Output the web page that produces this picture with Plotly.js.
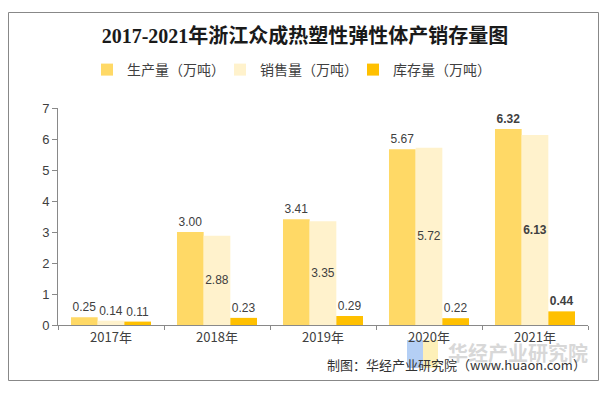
<!DOCTYPE html>
<html>
<head>
<meta charset="utf-8">
<script src="https://cdn.plot.ly/plotly-3.0.1.min.js"></script>
<style>html,body{margin:0;padding:0;background:#fff;}#chart{width:610px;height:396px;}</style>
</head>
<body>
<div id="chart"></div>
<script>
const categories = ['2017年', '2018年', '2019年', '2020年', '2021年'];
const production = [0.25, 3.00, 3.41, 5.67, 6.32];
const sales = [0.14, 2.88, 3.35, 5.72, 6.13];
const stock = [0.11, 0.23, 0.29, 0.22, 0.44];
const seriesNames = ['生产量（万吨）', '销售量（万吨）', '库存量（万吨）'];
const yTicks = [0, 1, 2, 3, 4, 5, 6, 7];

const colors = ['#FFD966', '#FFF2CC', '#FFC000'];
const labelFont = {family: 'Liberation Sans, Arial, sans-serif', size: 12, color: '#404040'};
const cjk = '"Noto Sans CJK SC", "Liberation Sans", sans-serif';

function labels(vals) {
  return vals.map((v, i) => i === vals.length - 1 ? '<b>' + v.toFixed(2) + '</b>' : v.toFixed(2));
}

const common = {type: 'bar', cliponaxis: false, constraintext: 'none', textangle: 0, hoverinfo: 'none',
                textfont: labelFont, insidetextfont: labelFont, outsidetextfont: labelFont};

const traces = [
  Object.assign({}, common, {name: seriesNames[0], x: categories, y: production, marker: {color: colors[0]},
   text: labels(production), textposition: 'outside'}),
  Object.assign({}, common, {name: seriesNames[1], x: categories, y: sales, marker: {color: colors[1]},
   text: labels(sales), textposition: sales.map(v => v < 1 ? 'outside' : 'inside'), insidetextanchor: 'middle'}),
  Object.assign({}, common, {name: seriesNames[2], x: categories, y: stock, marker: {color: colors[2]},
   text: labels(stock), textposition: 'outside'})
];

const L = 58, R = 588, T = 108, B = 325;
const W = R - L, H = B - T;
const px = x => (x - L) / W;
const py = y => (B - y) / H;

const layout = {
  width: 610, height: 396,
  margin: {l: L, r: 610 - R, t: T, b: 396 - B, pad: 0},
  paper_bgcolor: '#ffffff', plot_bgcolor: '#ffffff',
  font: {family: cjk, color: '#404040'},
  title: {text: '<b>2017-2021年浙江众成热塑性弹性体产销存量图</b>',
          font: {family: '"Liberation Serif", "Noto Sans CJK SC", serif', size: 20, color: '#1a1a1a'},
          x: 0.5, xref: 'container', xanchor: 'center', y: 1 - 36 / 396, yref: 'container', yanchor: 'middle'},
  barmode: 'group', bargap: 0.245, bargroupgap: 0,
  showlegend: true,
  legend: {orientation: 'h', x: px(87), xanchor: 'left', y: py(70), yanchor: 'middle',
           font: {family: cjk, size: 14, color: '#404040'}, entrywidth: 88, entrywidthmode: 'pixels',
           itemwidth: 30, bgcolor: 'rgba(0,0,0,0)', traceorder: 'normal'},
  xaxis: {type: 'category', showline: true, linecolor: '#898989', linewidth: 1,
          ticks: 'outside', tickson: 'boundaries', ticklen: 4, tickcolor: '#898989',
          tickfont: {family: cjk, size: 13, color: '#404040'}, showgrid: false, zeroline: false, fixedrange: true},
  yaxis: {range: [0, 7], tickvals: yTicks, ticktext: yTicks.map(String), showline: true, linecolor: '#898989', linewidth: 1,
          ticks: 'outside', ticklen: 5, tickcolor: '#898989', showgrid: false, zeroline: false,
          tickfont: {family: 'Liberation Sans, Arial, sans-serif', size: 13, color: '#404040'}, fixedrange: true},
  shapes: [
    {type: 'rect', xref: 'paper', yref: 'paper', x0: px(8.5), x1: px(598.5), y0: py(380.5), y1: py(12.5),
     line: {color: '#888888', width: 1}, fillcolor: 'rgba(0,0,0,0)', layer: 'below'},
    {type: 'rect', xref: 'paper', yref: 'paper', x0: px(407), x1: px(423), y0: py(368), y1: py(340),
     line: {width: 0}, fillcolor: '#b4cff5', layer: 'below'},
    {type: 'rect', xref: 'paper', yref: 'paper', x0: px(423), x1: px(438), y0: py(368), y1: py(340),
     line: {width: 0}, fillcolor: '#fdf0b8', layer: 'below'}
  ],
  annotations: [
    {text: '<b>华经产业研究院</b>', xref: 'paper', yref: 'paper', x: px(590), y: py(352), xanchor: 'right', yanchor: 'middle',
     showarrow: false, font: {family: cjk, size: 20, color: '#d8d8d8'}},
    {text: '制图：华经产业研究院（www.huaon.com）', xref: 'paper', yref: 'paper', x: px(588), y: py(364),
     xanchor: 'right', yanchor: 'middle', showarrow: false, font: {family: cjk, size: 13, color: '#333333'}}
  ]
};

Plotly.newPlot('chart', traces, layout, {staticPlot: true, displayModeBar: false});
</script>
</body>
</html>
